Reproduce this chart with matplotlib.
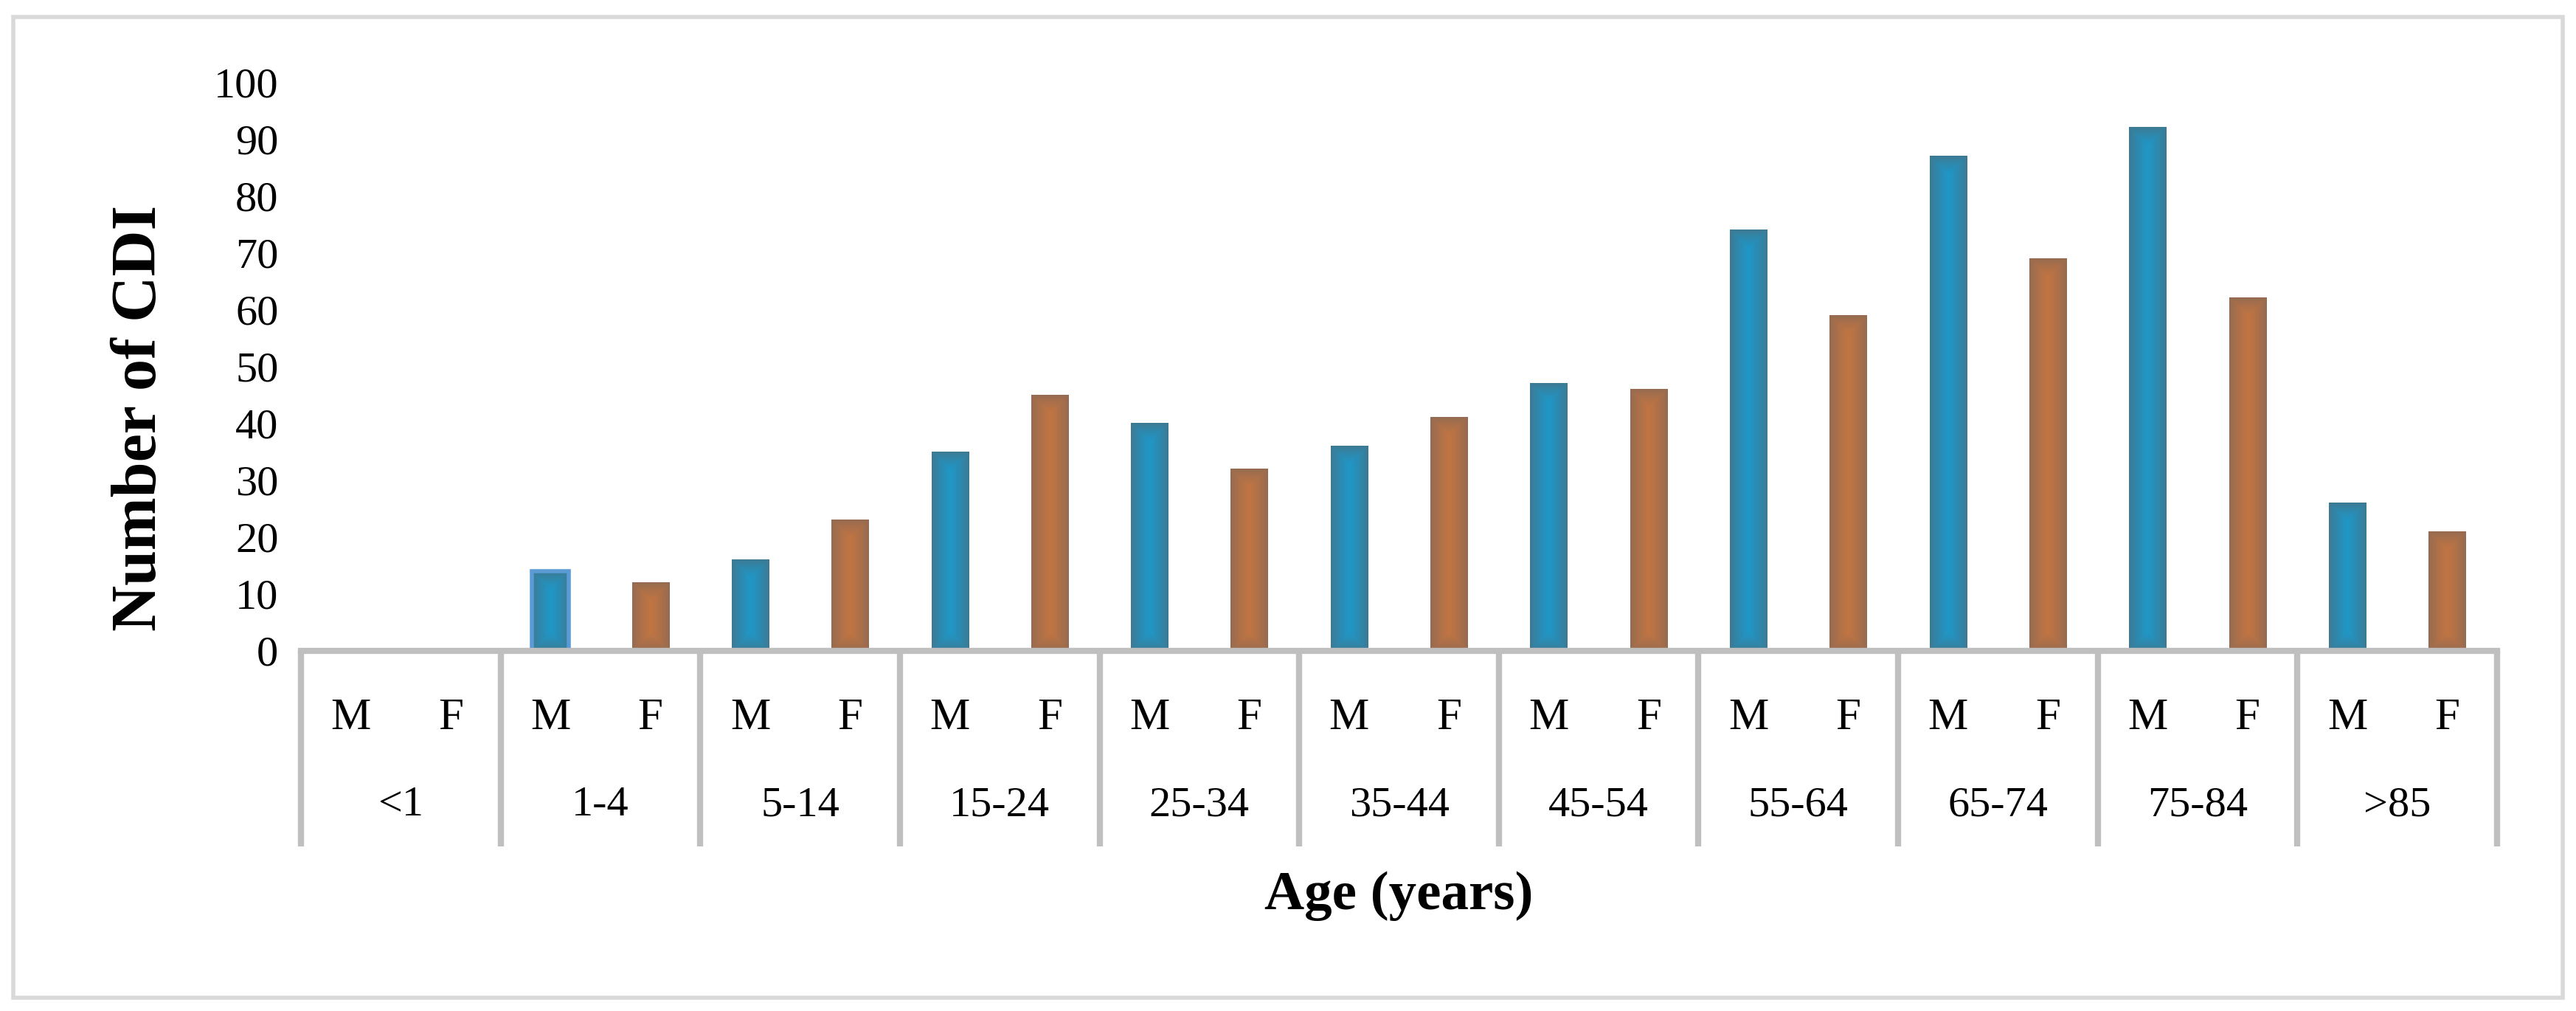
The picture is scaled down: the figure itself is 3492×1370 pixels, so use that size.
import numpy as np
import matplotlib
matplotlib.use("Agg")
import matplotlib.pyplot as plt
from matplotlib.colors import to_rgb
from matplotlib.patches import Rectangle

# data
age_groups = ["<1", "1-4", "5-14", "15-24", "25-34", "35-44", "45-54",
              "55-64", "65-74", "75-84", ">85"]
male = [0, 14, 16, 35, 40, 36, 47, 74, 87, 92, 26]
female = [0, 12, 23, 45, 32, 41, 46, 59, 69, 62, 21]
sex_labels = ["M", "F"]
y_ticks = list(range(0, 101, 10))

BLUE_C, BLUE_E = "#1f97c7", "#3f7890"
ORANGE_C, ORANGE_E = "#c27542", "#926a52"
GRAY = "#bfbfbf"

plt.rcParams["font.family"] = ["Liberation Serif", "DejaVu Serif"]

W, H = 3492, 1370
fig = plt.figure(figsize=(W / 100, H / 100), dpi=100)
ax = fig.add_axes([408 / W, 1 - 882 / H, (3385 - 408) / W, (882 - 111) / H])

n = len(age_groups)
slot_w = 0.5
bar_w = 0.37 * slot_w
px_x = (3385 - 408) / n          # pixels per group
px_y = (882 - 111) / 100.0       # pixels per unit


def gradient_bar(x, h, c_center, c_edge, edgecolor=None):
    if h <= 0:
        return
    x0 = x - bar_w / 2
    # the bar itself, filled with a centre-out gradient
    wpx = bar_w * px_x
    hpx = h * px_y
    nx, ny = 40, max(int(hpx / 2), 10)
    xs = (np.arange(nx) + 0.5) / nx * wpx
    ys = (np.arange(ny) + 0.5) / ny * hpx
    X, Y = np.meshgrid(xs, ys)
    hw = wpx / 2
    d = np.minimum(np.minimum(X, wpx - X), np.minimum(Y, hpx - Y))
    t = np.clip(d / hw, 0, 1) ** 0.8
    c0 = np.array(to_rgb(c_edge))
    c1 = np.array(to_rgb(c_center))
    img = c0 + (c1 - c0) * t[..., None]
    ax.imshow(img, extent=[x0, x0 + bar_w, 0, h], origin="lower",
              aspect="auto", zorder=2, interpolation="bilinear")
    if edgecolor:
        ax.add_patch(Rectangle((x0, 0), bar_w, h, facecolor="none",
                               edgecolor=edgecolor, linewidth=4, zorder=3))


for i in range(n):
    gradient_bar(i + 0.25, male[i], BLUE_C, BLUE_E,
                 edgecolor="#5b9bd5" if i == 1 else None)
    gradient_bar(i + 0.75, female[i], ORANGE_C, ORANGE_E)

ax.set_xlim(0, n)
ax.set_ylim(0, 100)
ax.set_yticks(y_ticks)
ax.set_yticklabels([str(v) for v in y_ticks], fontsize=42)
ax.tick_params(axis="y", length=0, pad=22)
ax.set_xticks([])
for s in ["top", "right", "left"]:
    ax.spines[s].set_visible(False)
ax.spines["bottom"].set_color(GRAY)
ax.spines["bottom"].set_linewidth(6)
ax.spines["bottom"].set_zorder(4)

# category separators and labels below the axis
sep_low = -(1147 - 882) / px_y
for i in range(n + 1):
    ax.plot([i, i], [0, sep_low], color=GRAY, lw=6, clip_on=False,
            solid_capstyle="butt", zorder=1)
y_sex = -(973 - 882) / px_y
y_grp = -(1091 - 882) / px_y
for i, g in enumerate(age_groups):
    for j, s in enumerate(sex_labels):
        ax.text(i + 0.25 + 0.5 * j, y_sex, s, ha="center", va="center",
                fontsize=44, clip_on=False)
    ax.text(i + 0.5, y_grp, g, ha="center", va="center", fontsize=42,
            clip_on=False)

fig.text((408 + 3385) / 2 / W, 1 - 1214 / H, "Age (years)", ha="center",
         va="center", fontsize=54, fontweight="bold")
fig.text(190 / W, 1 - 566 / H, "Number of CDI", ha="center", va="center",
         rotation=90, fontsize=62, fontweight="bold")

# outer light border
fig.add_artist(Rectangle((18 / W, 18 / H), (3474 - 18) / W, (1347 - 18) / H,
                         transform=fig.transFigure, fill=False,
                         edgecolor="#d9d9d9", linewidth=4))

fig.savefig("out.png", dpi=100)
